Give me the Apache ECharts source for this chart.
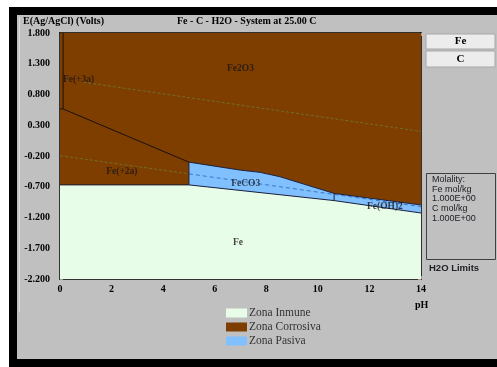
<!DOCTYPE html>
<html>
<head>
<meta charset="utf-8">
<script src="https://cdn.jsdelivr.net/npm/echarts@6/dist/echarts.min.js"></script>
<style>
html,body{margin:0;padding:0;background:#fff;}
#c{width:497px;height:367px;}
</style>
</head>
<body>
<div id="c"></div>
<script>
// ---- Data (pH, E in V vs Ag/AgCl) ----
const phMin = 0, phMax = 14;
const eMin = -2.2, eMax = 1.8;

// Fe(+3a) / Fe2O3 vertical boundary
const fe3VertPH = [0.12, 0.12];
const fe3VertE = [1.8, 0.565];
// Fe(+3a) / Fe(+2a) short horizontal
const fe3Fe2PH = [0, 0.12];
const fe3Fe2E = [0.565, 0.565];
// Fe(+2a) / Fe2O3 sloping boundary
const fe2Fe2O3PH = [0.12, 5];
const fe2Fe2O3E = [0.565, -0.30];
// Fe(+2a) / FeCO3 vertical
const fe2FeCO3PH = [5, 5];
const fe2FeCO3E = [-0.30, -0.67];
// Fe / Fe(+2a) horizontal
const feFe2PH = [0, 5];
const feFe2E = [-0.67, -0.67];
// Top of passive zone (FeCO3 / Fe(OH)2 against Fe2O3)
const passiveTopPH = [5, 7, 7.76, 8.53, 9.57, 10.63, 14];
const passiveTopE = [-0.30, -0.43, -0.466, -0.537, -0.672, -0.808, -0.997];
// Bottom of passive zone (against Fe)
const passiveBottomPH = [5, 10.63, 14];
const passiveBottomE = [-0.67, -0.925, -1.127];
// FeCO3 / Fe(OH)2 vertical
const feco3FeOH2PH = [10.63, 10.63];
const feco3FeOH2E = [-0.808, -0.925];
// Water limits
const o2LinePH = [0.9, 14];
const o2LineE = [1.0, 0.20];
const h2LineBrownPH = [0, 5];
const h2LineBrownE = [-0.195, -0.49];
const h2LineBluePH = [5, 14];
const h2LineBlueE = [-0.49, -1.025];

// Region labels
const labelNames = ['Fe2O3', 'Fe(+3a)', 'Fe(+2a)', 'FeCO3', 'Fe(OH)2', 'Fe'];
const labelPH = [7.0, 0.72, 2.4, 7.2, 12.6, 6.9];
const labelE = [1.23, 1.04, -0.445, -0.655, -1.015, -1.60];

const zoneNames = ['Zona Inmune', 'Zona Corrosiva', 'Zona Pasiva'];
const zoneColors = ['#e8fde8', '#7e3e00', '#80c0ff'];

// ---- helpers ----
function zip(xs, ys) { return xs.map((x, i) => [x, ys[i]]); }

const topPts = zip(passiveTopPH, passiveTopE);
const botPts = zip(passiveBottomPH, passiveBottomE);

const immunePoly = [[phMin, eMin], [phMin, feFe2E[0]]].concat(botPts).concat([[phMax, eMin]]);
const corrosivePoly = [[phMin, eMax], [phMax, eMax]]
  .concat(topPts.slice().reverse())
  .concat([[fe2FeCO3PH[1], fe2FeCO3E[1]], [phMin, feFe2E[0]]]);
const passivePoly = topPts.concat(botPts.slice().reverse());

function polySeries(name, poly, color) {
  return {
    name: name,
    type: 'custom',
    coordinateSystem: 'cartesian2d',
    itemStyle: { color: color },
    data: [poly[0]],
    silent: true,
    z: 1,
    renderItem: function (params, api) {
      return {
        type: 'polygon',
        shape: { points: poly.map(p => api.coord(p)) },
        style: { fill: color, stroke: null }
      };
    }
  };
}

function lineSeries(xs, ys, color, type, width) {
  return {
    type: 'line',
    data: zip(xs, ys),
    showSymbol: false,
    symbol: 'none',
    silent: true,
    z: 3,
    lineStyle: { color: color, width: width || 1, type: type || 'solid' },
    animation: false
  };
}

const serif = 'Liberation Serif, Times New Roman, serif';
const sans = 'Liberation Sans, Arial, sans-serif';

const chart = echarts.init(document.getElementById('c'), null, { renderer: 'canvas' });

const option = {
  animation: false,
  backgroundColor: 'transparent',
  graphic: [
    { type: 'rect', z: -10, shape: { x: 9, y: 7, width: 488, height: 360 }, style: { fill: '#000' } },
    { type: 'rect', z: -9, shape: { x: 17, y: 15, width: 480, height: 344 }, style: { fill: '#c0c0c0' } },
    { type: 'line', z: -8, shape: { x1: 19.5, y1: 17, x2: 19.5, y2: 312 }, style: { stroke: '#dcdce6', lineWidth: 1 } },
    { type: 'text', z: 5, left: 23, top: 16, style: { text: 'E(Ag/AgCl) (Volts)', font: 'bold 10px ' + serif, fill: '#000' } },
    { type: 'text', z: 5, left: 177, top: 16, style: { text: 'Fe - C - H2O - System at 25.00 C', font: 'bold 10px ' + serif, fill: '#000' } },
    { type: 'rect', z: 5, shape: { x: 426, y: 34, width: 69, height: 15 }, style: { fill: '#ececec', stroke: '#a8a8a8', lineWidth: 1 } },
    { type: 'text', z: 6, x: 460.5, y: 41.5, style: { text: 'Fe', font: 'bold 11px ' + serif, fill: '#000', align: 'center', verticalAlign: 'middle' } },
    { type: 'rect', z: 5, shape: { x: 426, y: 51, width: 69, height: 16 }, style: { fill: '#ececec', stroke: '#a8a8a8', lineWidth: 1 } },
    { type: 'text', z: 6, x: 460.5, y: 59, style: { text: 'C', font: 'bold 11px ' + serif, fill: '#000', align: 'center', verticalAlign: 'middle' } },
    { type: 'rect', z: 5, shape: { x: 426.5, y: 173.5, width: 69, height: 86 }, style: { fill: 'none', stroke: '#404040', lineWidth: 1 } },
    { type: 'text', z: 6, left: 432, top: 175, style: { text: 'Molality:\nFe mol/kg\n1.000E+00\nC mol/kg\n1.000E+00', font: '9px ' + sans, lineHeight: 9.6, fill: '#202028' } },
    { type: 'text', z: 6, left: 429, top: 263, style: { text: 'H2O Limits', font: 'bold 9.5px ' + sans, fill: '#202028' } },
    { type: 'text', z: 6, left: 415, top: 300, style: { text: 'pH', font: 'bold 10px ' + serif, fill: '#000' } }
  ],
  grid: { left: 60, top: 33, right: 76, bottom: 88, containLabel: false },
  legend: {
    data: zoneNames,
    orient: 'vertical',
    left: 226,
    top: 307,
    padding: 0,
    itemWidth: 21,
    itemHeight: 9,
    itemGap: 2,
    icon: 'rect',
    selectedMode: false,
    textStyle: { fontFamily: serif, fontSize: 11.5, color: '#333', padding: [0, 0, 0, -3] }
  },
  xAxis: [
    {
      type: 'value', min: phMin, max: phMax, interval: 1, position: 'bottom',
      axisLine: { show: true, onZero: false, lineStyle: { color: '#333', width: 2 } },
      axisTick: { show: true, inside: true, length: 3, lineStyle: { color: '#999' } },
      splitLine: { show: false },
      axisLabel: {
        interval: 0, margin: 5, fontFamily: serif, fontWeight: 'bold', fontSize: 10, color: '#000',
        formatter: v => (Math.round(v) % 2 === 0 ? String(Math.round(v)) : '')
      }
    },
    {
      type: 'value', min: phMin, max: phMax, interval: 1, position: 'top',
      axisLine: { show: true, onZero: false, lineStyle: { color: '#000', width: 1.5 } },
      axisTick: { show: true, inside: true, length: 3, lineStyle: { color: '#b89878' } },
      splitLine: { show: false },
      axisLabel: { show: false }
    }
  ],
  yAxis: [
    {
      type: 'value', min: eMin, max: eMax, interval: 0.5, position: 'left',
      axisLine: { show: true, onZero: false, lineStyle: { color: '#333', width: 2 } },
      axisTick: { show: true, inside: true, length: 3, lineStyle: { color: '#999' } },
      splitLine: { show: false },
      axisLabel: {
        margin: 10, fontFamily: serif, fontWeight: 'bold', fontSize: 10, color: '#000',
        formatter: v => v.toFixed(3)
      }
    },
    {
      type: 'value', min: eMin, max: eMax, interval: 0.5, position: 'right',
      axisLine: { show: true, onZero: false, lineStyle: { color: '#000', width: 1.5 } },
      axisTick: { show: true, inside: true, length: 3, lineStyle: { color: '#b89878' } },
      splitLine: { show: false },
      axisLabel: { show: false }
    }
  ],
  series: [
    polySeries(zoneNames[0], immunePoly, zoneColors[0]),
    polySeries(zoneNames[1], corrosivePoly, zoneColors[1]),
    polySeries(zoneNames[2], passivePoly, zoneColors[2]),
    lineSeries(o2LinePH, o2LineE, '#6f6f2c', [3, 2], 1),
    lineSeries(h2LineBrownPH, h2LineBrownE, '#6f6f2c', [3, 2], 1),
    lineSeries(h2LineBluePH, h2LineBlueE, '#3a78c8', [4, 3], 1),
    lineSeries(fe3VertPH, fe3VertE, '#1a1010', 'solid', 1),
    lineSeries(fe3Fe2PH, fe3Fe2E, '#1a1010', 'solid', 1),
    lineSeries(fe2Fe2O3PH, fe2Fe2O3E, '#1a1010', 'solid', 1),
    lineSeries(fe2FeCO3PH, fe2FeCO3E, '#1a1a30', 'solid', 1),
    lineSeries(feFe2PH, feFe2E, '#1a1a30', 'solid', 1),
    lineSeries(passiveTopPH, passiveTopE, '#1a2040', 'solid', 1),
    lineSeries(passiveBottomPH, passiveBottomE, '#1a2040', 'solid', 1),
    lineSeries(feco3FeOH2PH, feco3FeOH2E, '#1a2040', 'solid', 1),
    {
      type: 'scatter',
      symbolSize: 0,
      silent: true,
      z: 4,
      data: labelNames.map((n, i) => ({ name: n, value: [labelPH[i], labelE[i]] })),
      label: {
        show: true, position: 'inside', formatter: p => p.name,
        fontFamily: serif, fontWeight: 'bold', fontSize: 9.5, color: '#1a1418'
      }
    }
  ]
};
chart.setOption(option);
</script>
</body>
</html>
